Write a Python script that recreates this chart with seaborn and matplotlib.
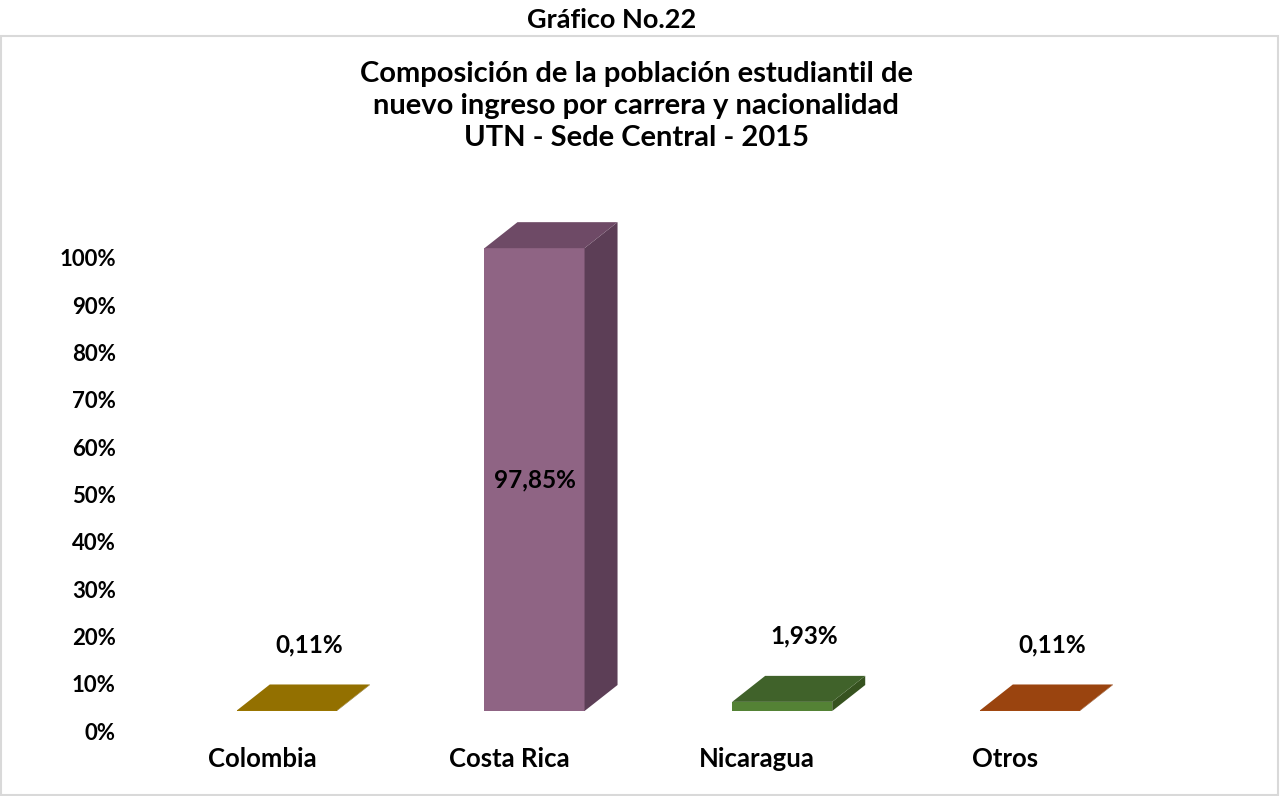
import numpy as np
import pandas as pd
import matplotlib.pyplot as plt
import matplotlib.transforms as mtransforms
from matplotlib.patches import Polygon, Rectangle
import seaborn as sns

# datos del grafico
paises = ['Colombia', 'Costa Rica', 'Nicaragua', 'Otros']
porcentajes = [0.11, 97.85, 1.93, 0.11]
etiquetas = ['0,11%', '97,85%', '1,93%', '0,11%']
ticks_y = [0, 10, 20, 30, 40, 50, 60, 70, 80, 90, 100]
ticks_y_txt = ['0%', '10%', '20%', '30%', '40%', '50%', '60%', '70%', '80%', '90%', '100%']
titulo = ['Composición de la población estudiantil de',
          'nuevo ingreso por carrera y nacionalidad',
          'UTN - Sede Central - 2015']

col_frente = ['#a07a00', '#8f6484', '#548235', '#a94b11']
col_tapa = ['#937000', '#6e4a66', '#40622a', '#9a440f']
col_lado = ['#6e5400', '#5c3e56', '#36521f', '#7a360c']

sns.set_theme(style='white')
plt.rcParams['font.family'] = ['Lato', 'DejaVu Sans']
plt.rcParams['font.weight'] = 'bold'
plt.rcParams['text.color'] = 'black'
plt.rcParams['xtick.color'] = 'black'
plt.rcParams['ytick.color'] = 'black'

df = pd.DataFrame({'pais': paises, 'pct': porcentajes})

fig = plt.figure(figsize=(12.8, 7.96), dpi=100)
W, H = 1280, 796
ax_l, ax_b, ax_w, ax_h = 163, 711, 990.7, 473
ax = fig.add_axes([ax_l / W, (H - ax_b) / H, ax_w / W, ax_h / H])

ancho = 0.404
sns.barplot(data=df, x='pais', y='pct', hue='pais', palette=col_frente,
            width=ancho, legend=False, ax=ax, saturation=1, linewidth=0)
ax.set_xlim(-0.5, 3.5)
ax.set_ylim(0, 100)

# profundidad 3D (en pixeles -> datos)
dx = 33 * 4 / ax_w
dy = 26 * 100 / ax_h
for i, v in enumerate(porcentajes):
    x0, x1 = i - ancho / 2, i + ancho / 2
    lado = Polygon([(x1, 0), (x1, v), (x1 + dx, v + dy), (x1 + dx, dy)],
                   closed=True, facecolor=col_lado[i], edgecolor='none', clip_on=False)
    tapa = Polygon([(x0, v), (x1, v), (x1 + dx, v + dy), (x0 + dx, v + dy)],
                   closed=True, facecolor=col_tapa[i], edgecolor='none', clip_on=False)
    ax.add_patch(lado)
    ax.add_patch(tapa)
    if v > 50:
        ax.text(i, v / 2, etiquetas[i], ha='center', va='center', fontsize=17.5,
                fontweight='bold', color='black')
    else:
        off = mtransforms.ScaledTranslation(0.22, 0.66, fig.dpi_scale_trans)
        ax.text(i, v, etiquetas[i], ha='center', va='center', fontsize=17.5,
                fontweight='bold', color='black', transform=ax.transData + off)

ax.set_yticks(ticks_y)
ax.set_yticklabels(ticks_y_txt, fontsize=16, fontweight='bold')
ax.set_xticks(range(len(paises)))
ax.set_xticklabels(paises, fontsize=18.5, fontweight='bold')
ax.tick_params(axis='y', length=0, pad=34)
ax.tick_params(axis='x', length=0, pad=26)
ax.set_xlabel('')
ax.set_ylabel('')
sns.despine(ax=ax, left=True, bottom=True)
ax.grid(False)

off_y = mtransforms.ScaledTranslation(0, -0.20, fig.dpi_scale_trans)
for t in ax.get_yticklabels():
    t.set_transform(t.get_transform() + off_y)
off_x = mtransforms.ScaledTranslation(-0.25, 0, fig.dpi_scale_trans)
for t in ax.get_xticklabels():
    t.set_transform(t.get_transform() + off_x)

# marco y titulos
fig.patches.append(Rectangle((1 / W, 1 / H), (W - 3) / W, (761 - 2) / H,
                             transform=fig.transFigure, fill=False,
                             edgecolor='#d9d9d9', linewidth=1.5))
fig.text(612 / W, 1 - 20 / H, 'Gráfico No.22', ha='center', va='center',
         fontsize=19.5, fontweight='bold')
for k, linea in enumerate(titulo):
    fig.text(636 / W, 1 - (74 + 32 * k) / H, linea, ha='center', va='center',
             fontsize=21, fontweight='bold')

plt.savefig('out.png', dpi=100)
